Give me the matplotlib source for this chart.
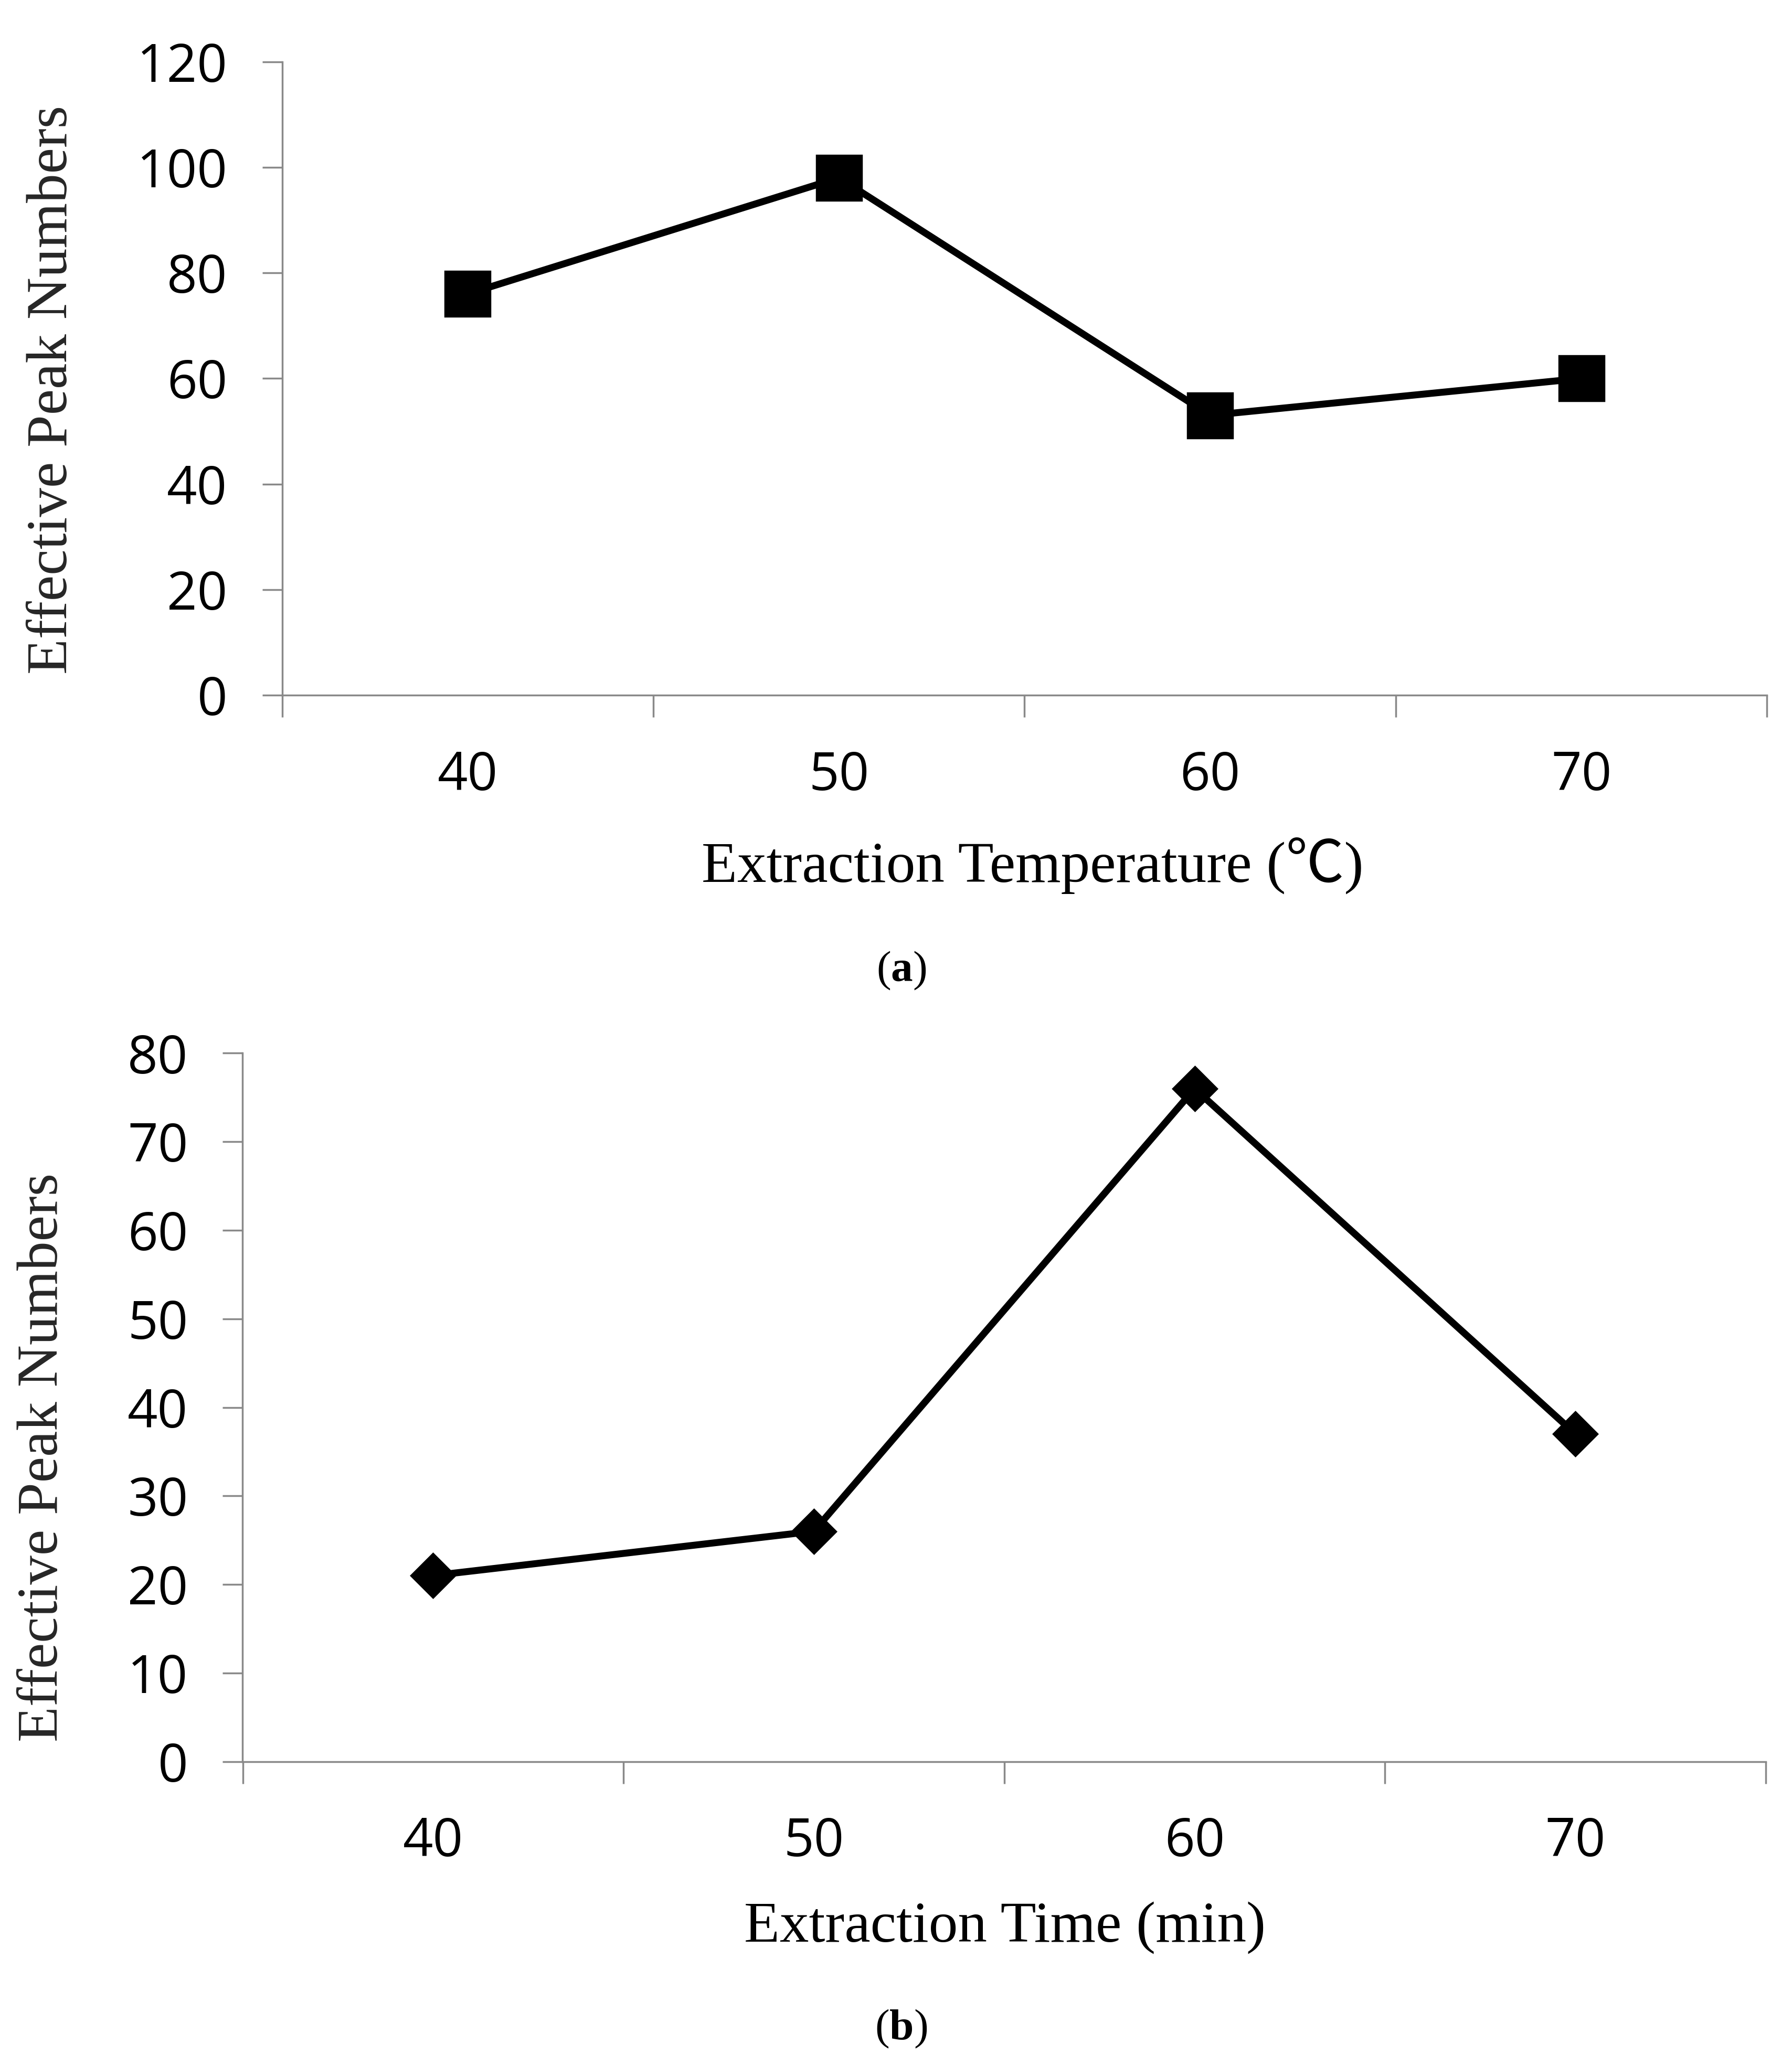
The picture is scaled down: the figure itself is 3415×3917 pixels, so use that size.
import matplotlib
matplotlib.use('Agg')
import matplotlib.pyplot as plt

# ---- data ----
temp_labels = ['40', '50', '60', '70']
temp_values = [76, 98, 53, 60]
temp_yticks = [0, 20, 40, 60, 80, 100, 120]

time_labels = ['40', '50', '60', '70']
time_values = [21, 26, 76, 37]
time_yticks = [0, 10, 20, 30, 40, 50, 60, 70, 80]

plt.rcParams['font.family'] = ['Open Sans', 'DejaVu Sans']
plt.rcParams['mathtext.fontset'] = 'custom'
plt.rcParams['mathtext.rm'] = 'Liberation Serif'
plt.rcParams['mathtext.bf'] = 'Liberation Serif:bold'

W, H = 1366.0, 1566.8
fig = plt.figure(figsize=(13.66, 15.668), dpi=250)
fig.patch.set_facecolor('white')


def fx(x):
    return x / W


def fy(y):
    return 1 - y / H


AX_COL = '#898989'
SERIF = ['Liberation Serif', 'Noto Sans CJK SC', 'DejaVu Serif']


def style(ax, labels, values, yticks, marker, ms):
    x = list(range(len(labels)))
    ax.plot(x, values, color='black', lw=3.8, marker=marker, ms=ms,
            mfc='black', mec='black', zorder=3, clip_on=False)
    ax.set_xlim(-0.5, len(labels) - 0.5)
    ax.set_ylim(yticks[0], yticks[-1])
    for s in ['top', 'right']:
        ax.spines[s].set_visible(False)
    for s in ['left', 'bottom']:
        ax.spines[s].set_color(AX_COL)
        ax.spines[s].set_linewidth(1.0)
    ax.set_yticks(yticks)
    ax.set_xticks(x)
    ax.set_xticklabels(labels)
    ax.set_xticks([i - 0.5 for i in range(len(labels) + 1)], minor=True)
    ax.tick_params(axis='y', length=11, width=1.0, color=AX_COL, pad=19,
                   labelsize=29, labelcolor='black')
    ax.tick_params(axis='x', which='major', length=0, pad=30,
                   labelsize=29, labelcolor='black')
    ax.tick_params(axis='x', which='minor', length=12, width=1.0, color=AX_COL)


# ---- panel (a) ----
ax1 = fig.add_axes([fx(215), fy(530), fx(1347) - fx(215), fy(47) - fy(530)])
style(ax1, temp_labels, temp_values, temp_yticks, 's', 25)
fig.text(fx(40), fy(297), 'Effective Peak Numbers', rotation=90,
         ha='center', va='center', fontsize=32, family=SERIF, color='#262626')
fig.text(fx(787), fy(660), 'Extraction Temperature (\u2103)',
         ha='center', va='center', fontsize=32, family=SERIF, color='black')
fig.text(fx(687), fy(740), r'($\mathbf{a}$)', ha='center', va='center',
         fontsize=24, family=SERIF, color='black')

# ---- panel (b) ----
ax2 = fig.add_axes([fx(185), fy(1343), fx(1346) - fx(185), fy(803) - fy(1343)])
style(ax2, time_labels, time_values, time_yticks, 'D', 17)
fig.text(fx(33), fy(1111), 'Effective Peak Numbers', rotation=90,
         ha='center', va='center', fontsize=32, family=SERIF, color='#262626')
fig.text(fx(766), fy(1470), 'Extraction Time (min)',
         ha='center', va='center', fontsize=32, family=SERIF, color='black')
fig.text(fx(687), fy(1547), r'($\mathbf{b}$)', ha='center', va='center',
         fontsize=24, family=SERIF, color='black')

fig.savefig('out.png', dpi=250, facecolor='white')
